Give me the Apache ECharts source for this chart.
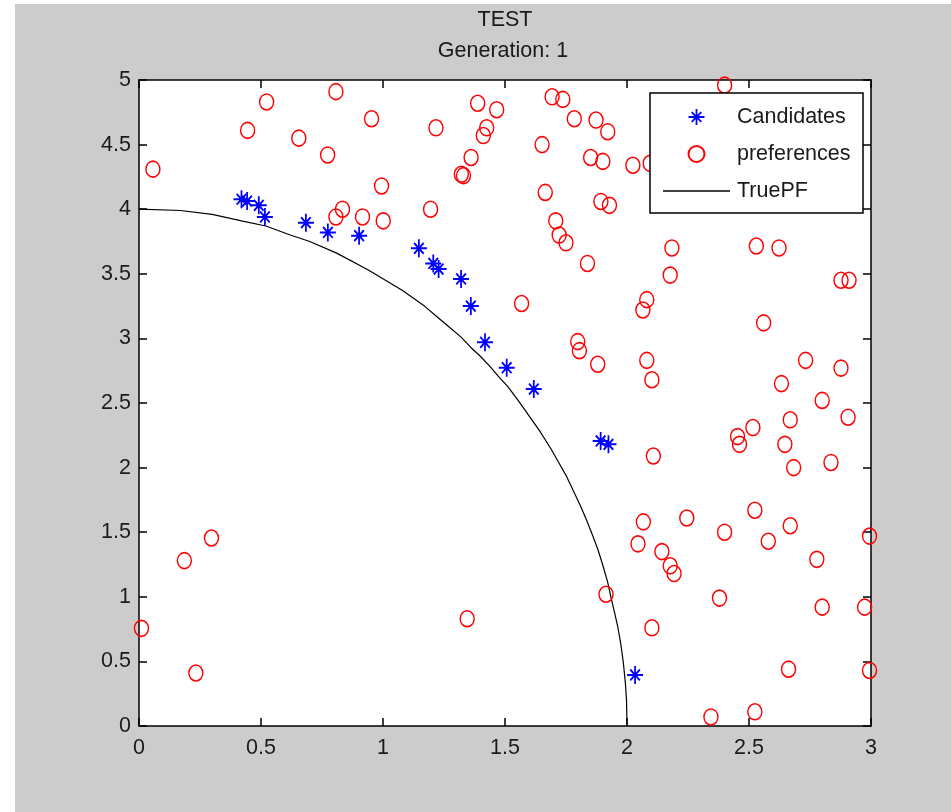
<!DOCTYPE html>
<html>
<head>
<meta charset="utf-8">
<script src="https://cdn.jsdelivr.net/npm/echarts@6/dist/echarts.min.js"></script>
<style>
html,body{margin:0;padding:0;background:#fff;}
#chart{width:951px;height:812px;}
</style>
</head>
<body>
<div id="chart"></div>
<script>
// ---- data ----
var titleText = 'TEST';
var subtitleText = 'Generation: 1';
var legendNames = ['Candidates', 'preferences', 'TruePF'];
var xTicks = [0, 0.5, 1, 1.5, 2, 2.5, 3];
var yTicks = [0, 0.5, 1, 1.5, 2, 2.5, 3, 3.5, 4, 4.5, 5];

var candidates = [
  [0.42,4.077],[0.443,4.063],[0.491,4.03],[0.516,3.94],[0.684,3.896],[0.774,3.82],
  [0.902,3.795],[1.147,3.697],[1.206,3.58],[1.228,3.537],[1.32,3.46],[1.36,3.25],
  [1.418,2.97],[1.507,2.773],[1.618,2.608],[1.892,2.206],[1.924,2.18],[2.033,0.395]
];

var preferences = [
  [0.057,4.31],[0.523,4.83],[0.445,4.61],[0.655,4.55],[0.807,4.91],[0.773,4.42],
  [0.953,4.70],[0.994,4.18],[0.834,4.00],[0.807,3.94],[0.916,3.94],[1.001,3.91],
  [1.217,4.63],[1.388,4.82],[1.466,4.77],[1.425,4.63],[1.411,4.57],[1.361,4.40],
  [1.321,4.27],[1.33,4.26],[1.195,4.00],[1.693,4.87],[1.737,4.85],[1.784,4.70],
  [1.873,4.69],[1.921,4.60],[1.652,4.50],[1.851,4.40],[1.901,4.37],[2.024,4.34],
  [1.665,4.13],[1.893,4.06],[1.928,4.03],[1.708,3.91],[1.722,3.80],[1.75,3.74],
  [1.838,3.58],[2.40,4.96],[2.095,4.355],[2.184,3.70],[2.53,3.715],[2.623,3.70],
  [2.177,3.49],[2.081,3.30],[2.065,3.22],[2.877,3.45],[2.91,3.45],[2.56,3.12],
  [2.081,2.83],[2.102,2.68],[2.732,2.83],[2.877,2.77],[2.633,2.65],[2.80,2.52],
  [2.906,2.39],[2.669,2.37],[2.516,2.31],[2.453,2.24],[2.461,2.18],[2.647,2.18],
  [2.108,2.09],[2.836,2.04],[2.683,2.00],[1.568,3.27],[1.798,2.975],[1.805,2.905],
  [1.88,2.80],[1.345,0.83],[1.914,1.02],[2.524,1.67],[2.669,1.55],[2.067,1.58],
  [2.245,1.61],[2.045,1.41],[2.40,1.50],[2.579,1.43],[2.143,1.35],[2.177,1.24],
  [2.193,1.18],[2.778,1.29],[2.994,1.47],[2.379,0.99],[2.80,0.92],[2.974,0.92],
  [2.102,0.76],[2.662,0.44],[2.994,0.43],[2.344,0.07],[2.524,0.11],
  [0.297,1.455],[0.186,1.28],[0.01,0.756],[0.233,0.41]
];

var truePF = [
  [0,4],[0.17,3.99],[0.3,3.96],[0.42,3.91],[0.52,3.87],[0.62,3.80],[0.7,3.75],
  [0.81,3.66],[0.94,3.53],[1.01,3.45],[1.08,3.37],[1.17,3.25],[1.22,3.17],
  [1.27,3.09],[1.32,3.01],[1.36,2.93],[1.40,2.86],[1.44,2.78],[1.48,2.69],
  [1.51,2.63],[1.55,2.53],[1.58,2.45],[1.61,2.37],[1.64,2.29],[1.67,2.20],
  [1.69,2.14],[1.72,2.04],[1.75,1.94],[1.78,1.82],[1.81,1.70],[1.835,1.59],
  [1.86,1.47],[1.88,1.37],[1.90,1.25],[1.92,1.12],[1.935,0.99],[1.95,0.87],
  [1.962,0.77],[1.975,0.63],[1.985,0.49],[1.993,0.34],[1.998,0.2],[2,0]
];

// ---- styling ----
var FONT = "'Liberation Sans', Arial, sans-serif";
var TXT = '#1a1a1a';
var FS = 21.5;
var starPath = 'path://M-1.1,-10L1.1,-10L1.1,10L-1.1,10Z M-10,-1.1L10,-1.1L10,1.1L-10,1.1Z ' +
  'M-6.8,-5.2L-5.2,-6.8L6.8,5.2L5.2,6.8Z M5.2,-6.8L6.8,-5.2L-5.2,6.8L-6.8,5.2Z ' +
  'M-2.2,-2.2L2.2,-2.2L2.2,2.2L-2.2,2.2Z';
var lineIcon = 'path://M0,0L67,0L67,1.3L0,1.3Z';

function axisBase(pos, isX, showLabel) {
  return {
    type: 'value',
    position: pos,
    min: isX ? xTicks[0] : yTicks[0],
    max: isX ? xTicks[xTicks.length - 1] : yTicks[yTicks.length - 1],
    interval: isX ? xTicks[1] - xTicks[0] : yTicks[1] - yTicks[0],
    axisLine: { show: true, onZero: false, lineStyle: { color: '#000', width: 1.5 } },
    axisTick: { show: true, inside: true, length: 8, lineStyle: { color: '#000', width: 1.5 } },
    axisLabel: { show: showLabel, margin: isX ? 11 : 8, fontSize: FS, color: TXT, fontFamily: FONT },
    splitLine: { show: false }
  };
}

var chart = echarts.init(document.getElementById('chart'), null, { renderer: 'canvas' });
chart.setOption({
  animation: false,
  backgroundColor: '#ffffff',
  graphic: [
    { type: 'rect', z: -10, silent: true, shape: { x: 15, y: 4, width: 936, height: 808 }, style: { fill: '#cccccc' } },
    { type: 'text', x: 505, y: 20, silent: true,
      style: { text: titleText, fontSize: FS, fontFamily: FONT, fill: TXT, align: 'center', verticalAlign: 'middle' } },
    { type: 'text', x: 503, y: 51, silent: true,
      style: { text: subtitleText, fontSize: FS, fontFamily: FONT, fill: TXT, align: 'center', verticalAlign: 'middle' } }
  ],
  grid: { left: 139, top: 80, right: 80, bottom: 86, show: true, backgroundColor: '#ffffff', borderWidth: 0, containLabel: false },
  xAxis: [axisBase('bottom', true, true), axisBase('top', true, false)],
  yAxis: [axisBase('left', false, true), axisBase('right', false, false)],
  legend: {
    orient: 'vertical',
    left: 650, top: 93,
    itemWidth: 67, itemHeight: 16, itemGap: 15,
    padding: [13, 12, 11, 13],
    backgroundColor: '#ffffff',
    borderColor: '#000', borderWidth: 1.5, borderRadius: 0,
    textStyle: { fontSize: FS, color: TXT, fontFamily: FONT, width: 114, lineHeight: 20, padding: [0, 0, 0, 2] },
    data: [
      { name: legendNames[0] },
      { name: legendNames[1], icon: 'circle' },
      { name: legendNames[2], icon: lineIcon }
    ]
  },
  series: [
    {
      name: legendNames[0], type: 'scatter', data: candidates,
      symbol: starPath, symbolSize: [16, 18], z: 4,
      itemStyle: { color: '#0000ff', opacity: 1 }
    },
    {
      name: legendNames[1], type: 'scatter', data: preferences,
      symbol: 'circle', symbolSize: [14, 16], z: 3, clip: false,
      itemStyle: { color: 'rgba(255,255,255,0)', borderColor: '#ff0000', borderWidth: 1.5, opacity: 1 }
    },
    {
      name: legendNames[2], type: 'line', data: truePF,
      symbol: 'none', showSymbol: false, smooth: false, z: 2,
      lineStyle: { color: '#000', width: 1.2 },
      itemStyle: { color: '#000' }
    }
  ]
});
</script>
</body>
</html>
